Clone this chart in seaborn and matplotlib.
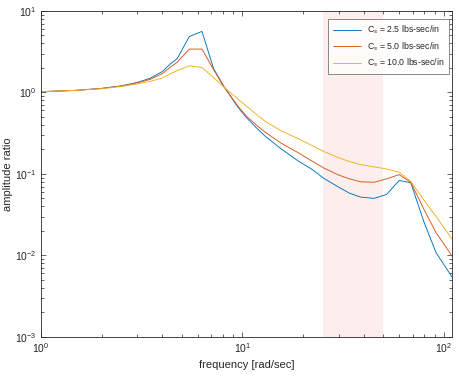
import matplotlib
matplotlib.use("Agg")
import matplotlib.pyplot as plt
import numpy as np
import pandas as pd
import seaborn as sns
from matplotlib.ticker import LogLocator, NullFormatter

# frequency samples [rad/sec]
freq = [1.0, 1.5, 2.0, 2.5, 3.0, 3.5, 4.0, 4.4, 4.75, 5.45, 6.3, 7.2, 8.1,
        9.5, 10.4, 11.7, 13.0, 15.5, 19.0, 22.0, 25.4, 30.0, 34.0, 38.6,
        45.0, 52.0, 60.0, 68.5, 80.0, 91.5, 110.0]

amp_cs_2_5 = [1.02, 1.06, 1.12, 1.20, 1.32, 1.50, 1.80, 2.25, 2.6, 4.85, 5.6,
              1.95, 1.18, 0.66, 0.50, 0.37, 0.289, 0.205, 0.143, 0.115,
              0.088, 0.069, 0.058, 0.052, 0.050, 0.056, 0.083, 0.078, 0.025,
              0.0108, 0.0054]
amp_cs_5_0 = [1.02, 1.06, 1.12, 1.20, 1.31, 1.45, 1.70, 2.05, 2.35, 3.4, 3.4,
              1.9, 1.17, 0.68, 0.52, 0.40, 0.324, 0.24, 0.181, 0.145, 0.118,
              0.097, 0.087, 0.080, 0.079, 0.087, 0.098, 0.079, 0.036, 0.019,
              0.0098]
amp_cs_10_0 = [1.02, 1.06, 1.11, 1.18, 1.27, 1.37, 1.50, 1.70, 1.85, 2.12,
               2.02, 1.52, 1.16, 0.83, 0.69, 0.54, 0.44, 0.34, 0.269, 0.225,
               0.188, 0.158, 0.142, 0.130, 0.122, 0.115, 0.105, 0.081, 0.047,
               0.030, 0.0158]

labels = ["C$_s$ = 2.5 lbs-sec/in", "C$_s$ = 5.0 lbs-sec/in", "C$_s$ = 10.0 lbs-sec/in"]
colors = ["#0072BD", "#D95319", "#EDB120"]
band = (25.0, 50.0)

sns.set_theme(style="ticks")
plt.rcParams["font.family"] = ["Liberation Sans", "DejaVu Sans"]
plt.rcParams["mathtext.fontset"] = "custom"
plt.rcParams["mathtext.rm"] = "Liberation Sans"
plt.rcParams["mathtext.it"] = "Liberation Sans:italic"

df = pd.concat(
    [pd.DataFrame({"freq": freq, "amp": a, "case": lab})
     for a, lab in zip([amp_cs_2_5, amp_cs_5_0, amp_cs_10_0], labels)],
    ignore_index=True,
)

fig = plt.figure(figsize=(4.6, 3.76), dpi=100)
ax = fig.add_axes([0.089, 0.104, 0.894, 0.867])

ax.axvspan(band[0], band[1], color="#fdeeee", lw=0, zorder=0)

sns.lineplot(data=df, x="freq", y="amp", hue="case", palette=colors,
             estimator=None, sort=False, linewidth=0.65, ax=ax)

ax.set_xscale("log")
ax.set_yscale("log")
ax.set_xlim(1, 110)
ax.set_ylim(1e-3, 10)
ax.xaxis.set_minor_locator(LogLocator(base=10, subs=np.arange(2, 10)))
ax.yaxis.set_minor_locator(LogLocator(base=10, subs=np.arange(2, 10)))
ax.xaxis.set_minor_formatter(NullFormatter())
ax.yaxis.set_minor_formatter(NullFormatter())

for side in ["top", "right", "left", "bottom"]:
    ax.spines[side].set_visible(True)
    ax.spines[side].set_color("#262626")
    ax.spines[side].set_linewidth(0.6)
ax.tick_params(which="both", direction="in", top=True, right=True,
               color="#262626", width=0.5, labelsize=7.5, pad=3)
ax.tick_params(which="major", length=3.5)
ax.tick_params(which="minor", length=2)

ax.set_xlabel("frequency [rad/sec]", fontsize=8)
ax.set_ylabel("amplitude ratio", fontsize=8)
ax.yaxis.set_label_coords(-0.068, 0.5)

leg = ax.legend(loc="upper right", bbox_to_anchor=(0.993, 0.975),
                borderaxespad=0, fontsize=6.3, frameon=True, fancybox=False,
                handlelength=3.2, handletextpad=0.7, labelspacing=0.45,
                borderpad=0.55)
leg.get_frame().set_edgecolor("#555555")
leg.get_frame().set_linewidth(0.6)

fig.savefig("out.png", dpi=100)
